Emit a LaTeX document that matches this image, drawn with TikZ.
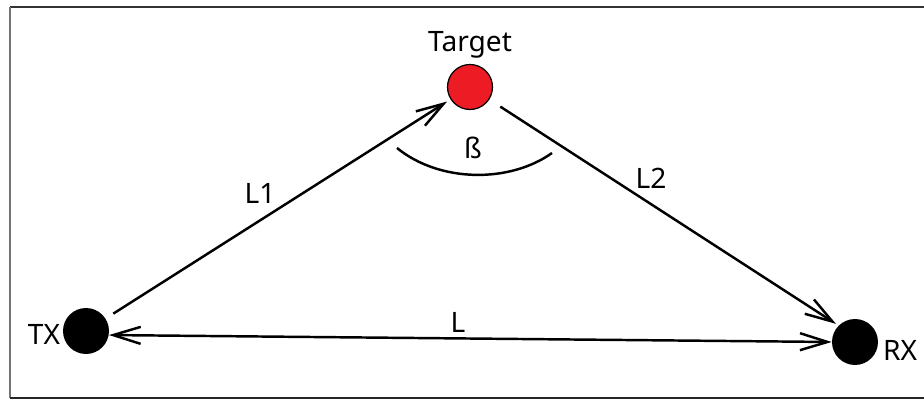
\documentclass[tikz,border=0pt]{standalone}
\usepackage{fontspec}
\setmainfont{Noto Sans}
\usetikzlibrary{arrows.meta,positioning}
\definecolor{tgtred}{HTML}{ED1C24}

\begin{document}
\begin{tikzpicture}[
  x=0.02cm, y=-0.02cm,
  >={Straight Barb[length=5.5mm,width=3.4mm,line width=1.4pt]},
  dot/.style={circle, fill=black, inner sep=0pt, minimum size=0.92cm},
  tgt/.style={circle, draw=black, line width=0.7pt, fill=tgtred,
              inner sep=0pt, minimum size=0.9cm},
  lbl/.style={font=\fontsize{16}{19}\selectfont, inner sep=0pt},
  arr/.style={draw, line width=1.4pt, ->},
  frm/.style={line width=1.1pt}
]
\useasboundingbox (0,0) rectangle (924,401);
% frame
\draw[frm, black!80] (10,7) -- (924,7);
\draw[frm, black!55] (10,7) -- (10,398);
\draw[frm, black!85] (10,398) -- (924,398);
% stations and target
\node[dot] (tx) at (86,331) {};
\node[dot] (rx) at (855,342) {};
\node[tgt] (tg) at (470,87) {};
\node[lbl] (txl) at (44,334) {TX};
\node[lbl] (rxl) at (900,350) {RX};
\node[lbl] (tgl) at (470,45) {Target};
% paths
\draw[arr, shorten <=0.18cm, shorten >=0.08cm] (tx) -- (tg);
\draw[arr, shorten <=0.26cm, shorten >=0.06cm] (tg) -- (rx.135);
\draw[arr, <->] (tx.-10) -- (rx.west);
\node[lbl] (l1) at (260,193) {L1};
\node[lbl] (l2) at (651,178) {L2};
\node[lbl] (l) at (458,322) {L};
% angle
\draw[line width=1.4pt] (397,148) .. controls (440,183) and (510,183) .. (552,153);
\node[lbl] (bt) at (473,148) {ß};
\end{tikzpicture}
\end{document}
